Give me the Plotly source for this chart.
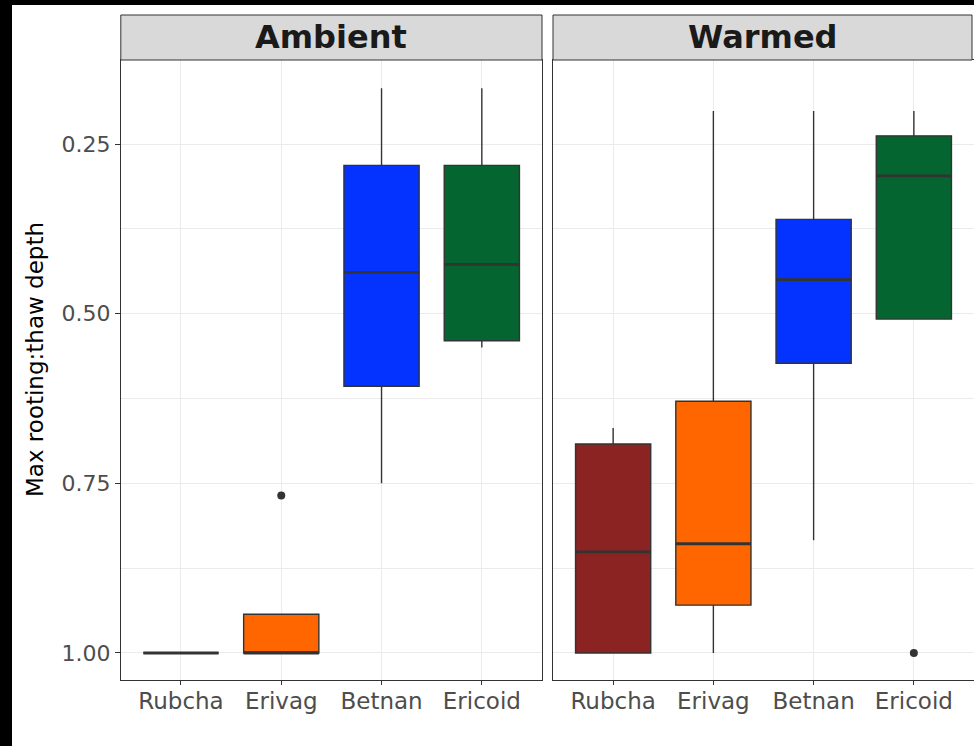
import plotly.graph_objects as go

categories = ["Rubcha", "Erivag", "Betnan", "Ericoid"]
colors = ["#8B2323", "#FF6600", "#0433FF", "#056530"]
facets = ["Ambient", "Warmed"]
y_ticks = [0.25, 0.50, 0.75, 1.00]
y_ticktext = ["0.25", "0.50", "0.75", "1.00"]
y_minor = [0.375, 0.625, 0.875]

# Ambient panel (box statistics)
amb_lower = [1.00, 0.943, 0.168, 0.168]
amb_q1 = [1.00, 0.943, 0.2815, 0.2815]
amb_median = [1.00, 1.00, 0.439, 0.4275]
amb_q3 = [1.00, 1.00, 0.607, 0.540]
amb_upper = [1.00, 1.00, 0.75, 0.550]
amb_out_cat = ["Erivag"]
amb_out_val = [0.768]

# Warmed panel (box statistics)
war_lower = [0.6686, 0.2015, 0.2015, 0.2015]
war_q1 = [0.692, 0.629, 0.361, 0.238]
war_median = [0.851, 0.839, 0.4497, 0.297]
war_q3 = [1.00, 0.9295, 0.573, 0.508]
war_upper = [1.00, 1.00, 0.834, 0.508]
war_out_cat = ["Ericoid"]
war_out_val = [1.00]

W, H = 974, 746
FONT = "DejaVu Sans"
BOXW = 0.75

fig = go.Figure()

panels = [
    ("x", "y", amb_lower, amb_q1, amb_median, amb_q3, amb_upper, amb_out_cat, amb_out_val),
    ("x2", "y2", war_lower, war_q1, war_median, war_q3, war_upper, war_out_cat, war_out_val),
]

for xa, ya, lo, q1, med, q3, up, ocat, oval in panels:
    for i, cat in enumerate(categories):
        pos = i + 1
        fig.add_trace(go.Box(
            x=[pos], q1=[q1[i]], median=[med[i]], q3=[q3[i]],
            lowerfence=[lo[i]], upperfence=[up[i]],
            width=BOXW, fillcolor=colors[i],
            line=dict(color="#333333", width=1.4),
            whiskerwidth=0, boxpoints=False,
            xaxis=xa, yaxis=ya, hoverinfo="skip", showlegend=False,
        ))
        fig.add_trace(go.Scatter(
            x=[pos - BOXW / 2, pos + BOXW / 2], y=[med[i], med[i]],
            mode="lines", line=dict(color="#333333", width=2.8),
            xaxis=xa, yaxis=ya, hoverinfo="skip", showlegend=False,
        ))
    fig.add_trace(go.Scatter(
        x=[categories.index(c) + 1 for c in ocat], y=oval,
        mode="markers", marker=dict(color="#333333", size=8),
        xaxis=xa, yaxis=ya, hoverinfo="skip", showlegend=False,
    ))

xdom1 = [120.8 / W, 542.0 / W]
xdom2 = [553.0 / W, 1.0]
ydom = [(H - 680) / H, (H - 60) / H]

common_x = dict(
    range=[0.4, 4.6], tickmode="array", tickvals=[1, 2, 3, 4], ticktext=categories,
    showgrid=True, gridcolor="#EBEBEB", gridwidth=1.1,
    ticks="outside", ticklen=4, tickwidth=1, tickcolor="#333333",
    ticklabelstandoff=-4,
    tickfont=dict(family=FONT, size=23, color="#4D4D4D"),
    showline=True, linecolor="#333333", linewidth=1, mirror=True,
    zeroline=False, automargin=False, fixedrange=True,
)
common_y = dict(
    range=[1.0398, 0.1262], tickmode="array", tickvals=y_ticks,
    showgrid=True, gridcolor="#EBEBEB", gridwidth=1.1,
    minor=dict(tickmode="array", tickvals=y_minor, showgrid=True,
               gridcolor="#EBEBEB", gridwidth=0.6, ticks=""),
    showline=True, linecolor="#333333", linewidth=1, mirror=True,
    zeroline=False, automargin=False, domain=ydom, fixedrange=True,
)

fig.update_layout(
    width=W, height=H,
    margin=dict(l=0, r=0, t=0, b=0),
    paper_bgcolor="black", plot_bgcolor="white",
    showlegend=False,
    xaxis=dict(domain=xdom1, anchor="y", **common_x),
    xaxis2=dict(domain=xdom2, anchor="y2", **common_x),
    yaxis=dict(anchor="x", ticktext=y_ticktext, ticks="outside", ticklen=5,
               tickwidth=1, tickcolor="#333333",
               tickfont=dict(family=FONT, size=22, color="#4D4D4D"), **common_y),
    yaxis2=dict(anchor="x2", matches="y", showticklabels=False, ticks="", **common_y),
)

shapes = [dict(type="rect", xref="paper", yref="paper", x0=12 / W, x1=1.01,
               y0=-0.01, y1=(H - 5) / H, fillcolor="white", line=dict(width=0),
               layer="below")]
annotations = []
strip_top = (H - 15) / H
strip_bot = (H - 60) / H
for dom, name in zip([xdom1, xdom2], facets):
    x1 = min(dom[1], 972 / W)
    shapes.append(dict(type="rect", xref="paper", yref="paper",
                       x0=dom[0], x1=x1, y0=strip_bot, y1=strip_top,
                       fillcolor="#D9D9D9", line=dict(color="#333333", width=1)))
    annotations.append(dict(xref="paper", yref="paper", x=(dom[0] + x1) / 2,
                            y=(strip_top + strip_bot) / 2, text=name, showarrow=False,
                            xanchor="center", yanchor="middle",
                            font=dict(family=FONT, size=32, color="#1A1A1A", weight="bold")))
annotations.append(dict(xref="paper", yref="paper", x=35 / W, y=(H - 360) / H,
                        text="Max rooting:thaw depth", showarrow=False, textangle=-90,
                        xanchor="center", yanchor="middle",
                        font=dict(family=FONT, size=23, color="black")))
fig.update_layout(shapes=shapes, annotations=annotations)

fig.write_html(
    "out.html",
    config={"displayModeBar": False, "staticPlot": False},
    post_script="document.body.style.margin='0';document.body.style.padding='0';"
                "document.body.style.background='black';document.body.style.overflow='hidden';",
)
